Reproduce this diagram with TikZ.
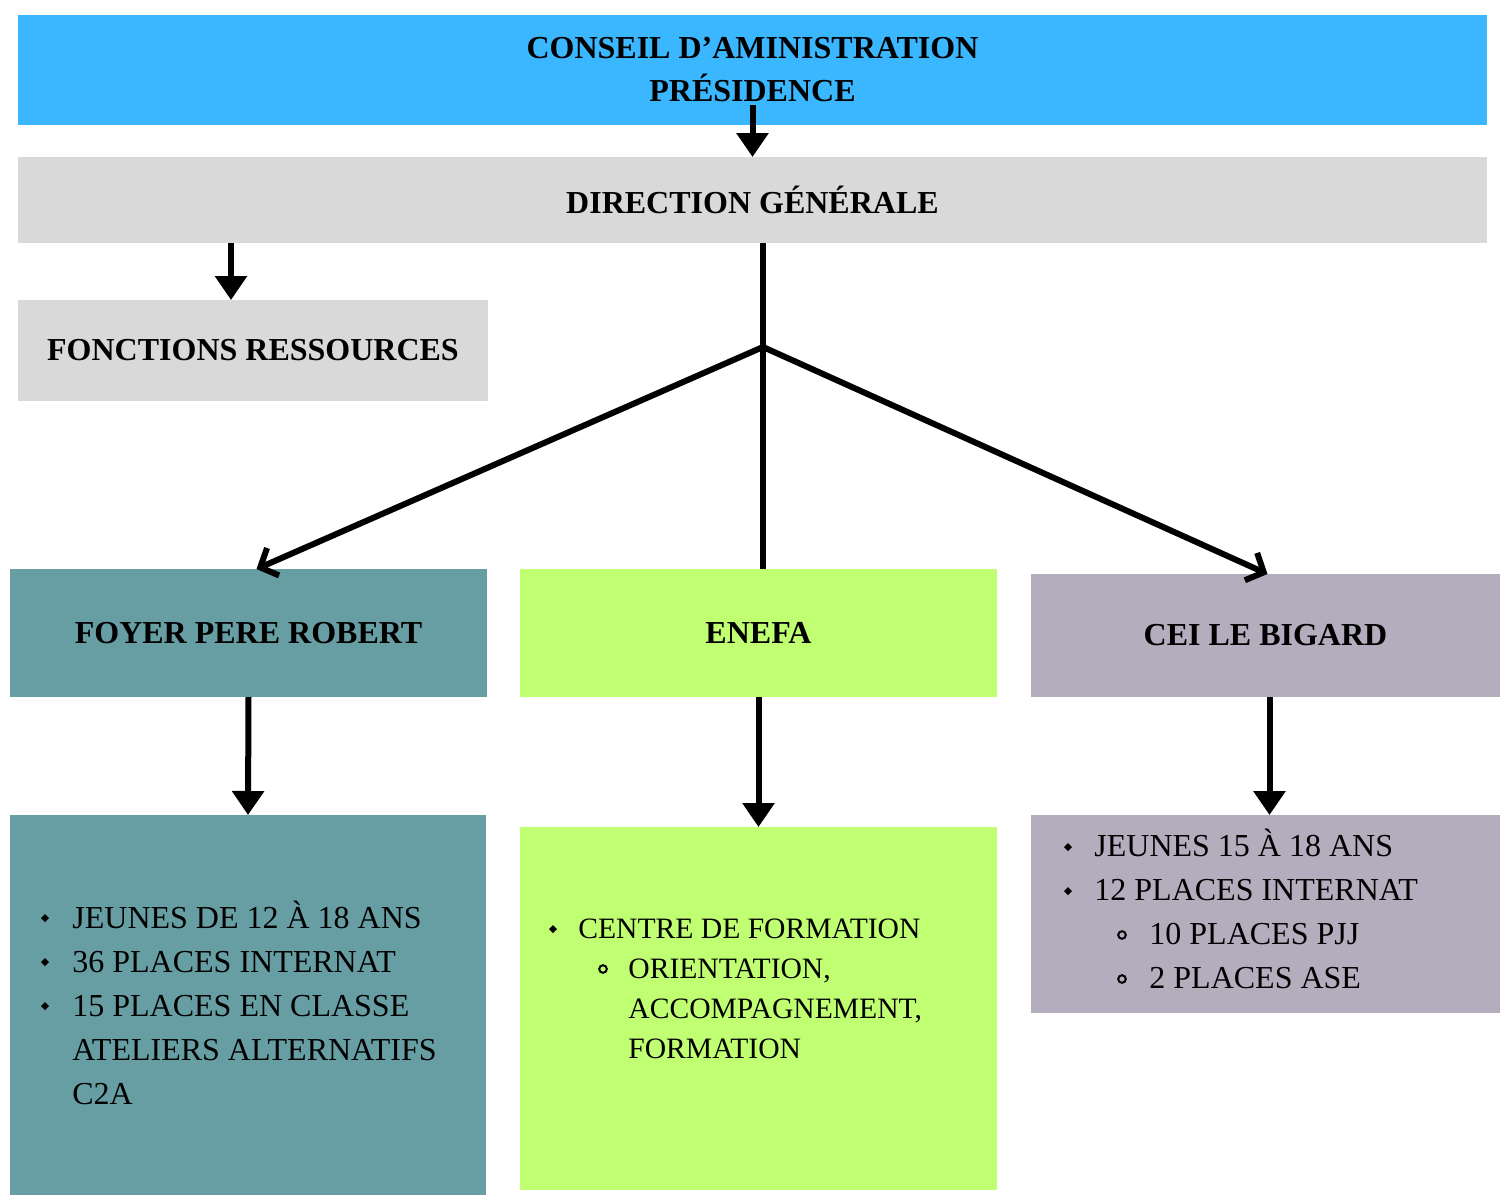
\documentclass[tikz,border=0pt]{standalone}
\usepackage{fontspec}
\setmainfont{Liberation Serif}
\usepackage{tikz}
\usetikzlibrary{arrows.meta,calc}
\definecolor{cablue}{RGB}{59,183,255}
\definecolor{dggray}{RGB}{217,217,217}
\definecolor{fprteal}{RGB}{102,158,163}
\definecolor{enefagreen}{RGB}{192,255,114}
\definecolor{ceimauve}{RGB}{180,173,190}
\tikzstyle{orgbox}=[inner sep=0pt, outer sep=0pt, anchor=north west, align=center, font=\fontsize{16}{21.5}\selectfont\bfseries]
\tikzstyle{listline}=[inner sep=0pt, anchor=base west, font=\fontsize{16}{20}\selectfont]
\tikzstyle{smalllistline}=[listline, font=\fontsize{14.8}{18}\selectfont]
\tikzstyle{downarrow}=[line width=3pt, -{Triangle[width=15.5pt,length=12pt]}]
\tikzstyle{branch}=[line width=3pt]
\tikzstyle{slantarrow}=[line width=3pt, -{Straight Barb[length=7pt,width=15pt]}]
\newcommand{\dotbullet}[2]{
	\fill (#1,#2) ++(-4,0) -- ++(4,-4) -- ++(4,4) -- ++(-4,4) -- cycle;
}
\newcommand{\ringbullet}[2]{
	\draw[line width=1pt] (#1,#2) circle (1.9pt);
}

\begin{document}
\begin{tikzpicture}[x=0.5pt, y=-0.5pt]
	\useasboundingbox (0,0) rectangle (1500,1195);
%
	\node[orgbox, fill=cablue, minimum width=734.5pt, minimum height=55pt] (ca) at (18,15) {CONSEIL D'AMINISTRATION\\PRÉSIDENCE};
	\node[orgbox, fill=dggray, minimum width=734.5pt, minimum height=43pt] (dg) at (18,157) {DIRECTION GÉNÉRALE};
	\node[orgbox, fill=dggray, minimum width=235pt, minimum height=50.5pt] (fr) at (18,300) {FONCTIONS RESSOURCES};
%
	\node[orgbox, fill=fprteal, minimum width=238.5pt, minimum height=64pt] (fpr) at (10,569) {FOYER PERE ROBERT};
	\node[orgbox, fill=enefagreen, minimum width=238.5pt, minimum height=64pt] (enefa) at (520,569) {ENEFA};
	\node[orgbox, fill=ceimauve, minimum width=234.5pt, minimum height=61.5pt] (cei) at (1031,574) {CEI LE BIGARD};
%
	\node[orgbox, fill=fprteal, minimum width=238pt, minimum height=190pt] (fprlist) at (10,815) {};
	\node[orgbox, fill=enefagreen, minimum width=238.5pt, minimum height=181.5pt] (enefalist) at (520,827) {};
	\node[orgbox, fill=ceimauve, minimum width=234.5pt, minimum height=99pt] (ceilist) at (1031,815) {};
%
	\coordinate (hub) at (763,347);
	\draw[downarrow] ([yshift=10pt]ca.south) -- (dg.north);
	\draw[downarrow] ([xshift=-11pt]fr.north |- dg.south) -- ([xshift=-11pt]fr.north);
	\draw[branch] (dg.south -| hub) -- (hub) -- (hub |- enefa.north);
	\draw[slantarrow] (hub) -- ([xshift=4pt]fpr.north);
	\draw[slantarrow] (hub) -- ([xshift=1pt]cei.north);
	\draw[downarrow] (fpr.south) -- (fprlist.north);
	\draw[downarrow] (enefa.south) -- (enefalist.north);
	\draw[downarrow] ([xshift=2pt]cei.south) -- ([xshift=2pt]ceilist.north);
%
	\node[listline] (fpr1) at (72,928) {JEUNES DE 12 À 18 ANS};
	\node[listline] (fpr2) at (72,972) {36 PLACES INTERNAT};
	\node[listline] (fpr3) at (72,1016) {15 PLACES EN CLASSE};
	\node[listline] (fpr4) at (72,1060) {ATELIERS ALTERNATIFS};
	\node[listline] (fpr5) at (72,1104) {C2A};
	\dotbullet{45}{918}
	\dotbullet{45}{962}
	\dotbullet{45}{1006}
%
	\node[smalllistline] (enefa1) at (578,938) {CENTRE DE FORMATION};
	\node[smalllistline] (enefa2) at (628,978) {ORIENTATION,};
	\node[smalllistline] (enefa3) at (628,1018) {ACCOMPAGNEMENT,};
	\node[smalllistline] (enefa4) at (628,1058) {FORMATION};
	\dotbullet{553}{929}
	\ringbullet{603}{969}
%
	\node[listline] (cei1) at (1094,856) {JEUNES 15 À 18 ANS};
	\node[listline] (cei2) at (1094,900) {12 PLACES INTERNAT};
	\node[listline] (cei3) at (1149,944) {10 PLACES PJJ};
	\node[listline] (cei4) at (1149,988) {2 PLACES ASE};
	\dotbullet{1068}{847}
	\dotbullet{1068}{891}
	\ringbullet{1122}{935}
	\ringbullet{1122}{979}
\end{tikzpicture}
\end{document}
